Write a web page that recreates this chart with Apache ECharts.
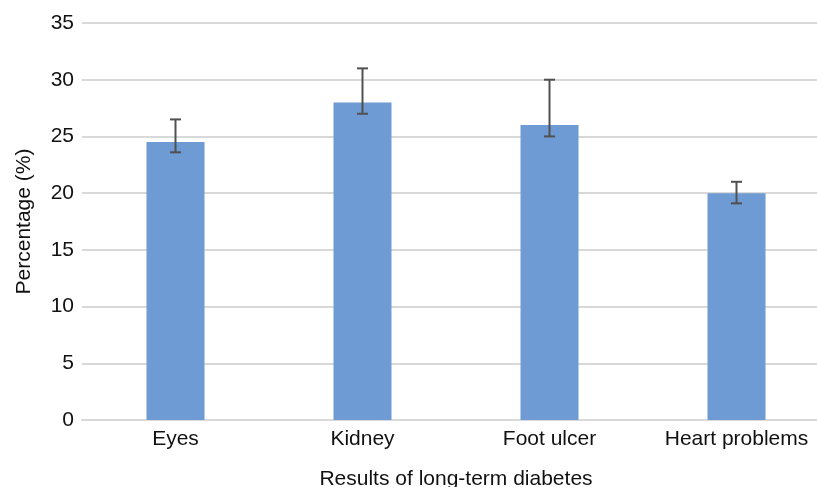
<!DOCTYPE html>
<html><head><meta charset="utf-8">
<script src="https://cdn.jsdelivr.net/npm/echarts@6/dist/echarts.min.js"></script>
<style>html,body{margin:0;padding:0;background:#fff;overflow:hidden}#c{width:817px;height:487px}</style>
</head><body><div id="c"></div>
<script>
const categories = ['Eyes', 'Kidney', 'Foot ulcer', 'Heart problems'];
const values = [24.5, 28, 26, 20];
const errHigh = [26.5, 31, 30, 21];
const errLow = [23.6, 27, 25, 19.1];
const yTicks = [0, 5, 10, 15, 20, 25, 30, 35];

const chart = echarts.init(document.getElementById('c'));
const font = '"Liberation Sans", Arial, sans-serif';
chart.setOption({
  animation: false,
  grid: { left: 82, top: 23, width: 748, bottom: 67, containLabel: false, outerBoundsMode: 'none' },
  xAxis: {
    type: 'category', data: categories,
    axisLine: { show: true, lineStyle: { color: '#d9d9d9', width: 2 } },
    axisTick: { show: false },
    axisLabel: { color: '#111', fontSize: 21, fontFamily: font, margin: 9 },
    name: 'Results of long-term diabetes', nameLocation: 'middle', nameGap: 49,
    nameTextStyle: { color: '#111', fontSize: 21, fontFamily: font }
  },
  yAxis: {
    type: 'value', min: yTicks[0], max: yTicks[yTicks.length - 1], interval: 5,
    axisLine: { show: false }, axisTick: { show: false },
    splitLine: { lineStyle: { color: '#d9d9d9', width: 2 } },
    axisLabel: { color: '#111', fontSize: 21, fontFamily: font, margin: 8 },
    name: 'Percentage (%)', nameLocation: 'middle', nameGap: 47, nameRotate: 90,
    nameTextStyle: { color: '#111', fontSize: 21, fontFamily: font }
  },
  series: [
    { type: 'bar', data: values, barWidth: 58, itemStyle: { color: '#6f9bd5' }, z: 2 },
    {
      type: 'custom', z: 5,
      data: categories.map((c, i) => [i, errLow[i], errHigh[i]]),
      renderItem: function (params, api) {
        const x = api.value(0);
        const lo = api.coord([x, api.value(1)]);
        const hi = api.coord([x, api.value(2)]);
        const hw = 5.5;
        const style = { stroke: '#505050', lineWidth: 2 };
        return { type: 'group', children: [
          { type: 'line', shape: { x1: hi[0], y1: hi[1], x2: lo[0], y2: lo[1] }, style },
          { type: 'line', shape: { x1: hi[0] - hw, y1: hi[1], x2: hi[0] + hw, y2: hi[1] }, style },
          { type: 'line', shape: { x1: lo[0] - hw, y1: lo[1], x2: lo[0] + hw, y2: lo[1] }, style }
        ]};
      }
    }
  ]
});
</script></body></html>
